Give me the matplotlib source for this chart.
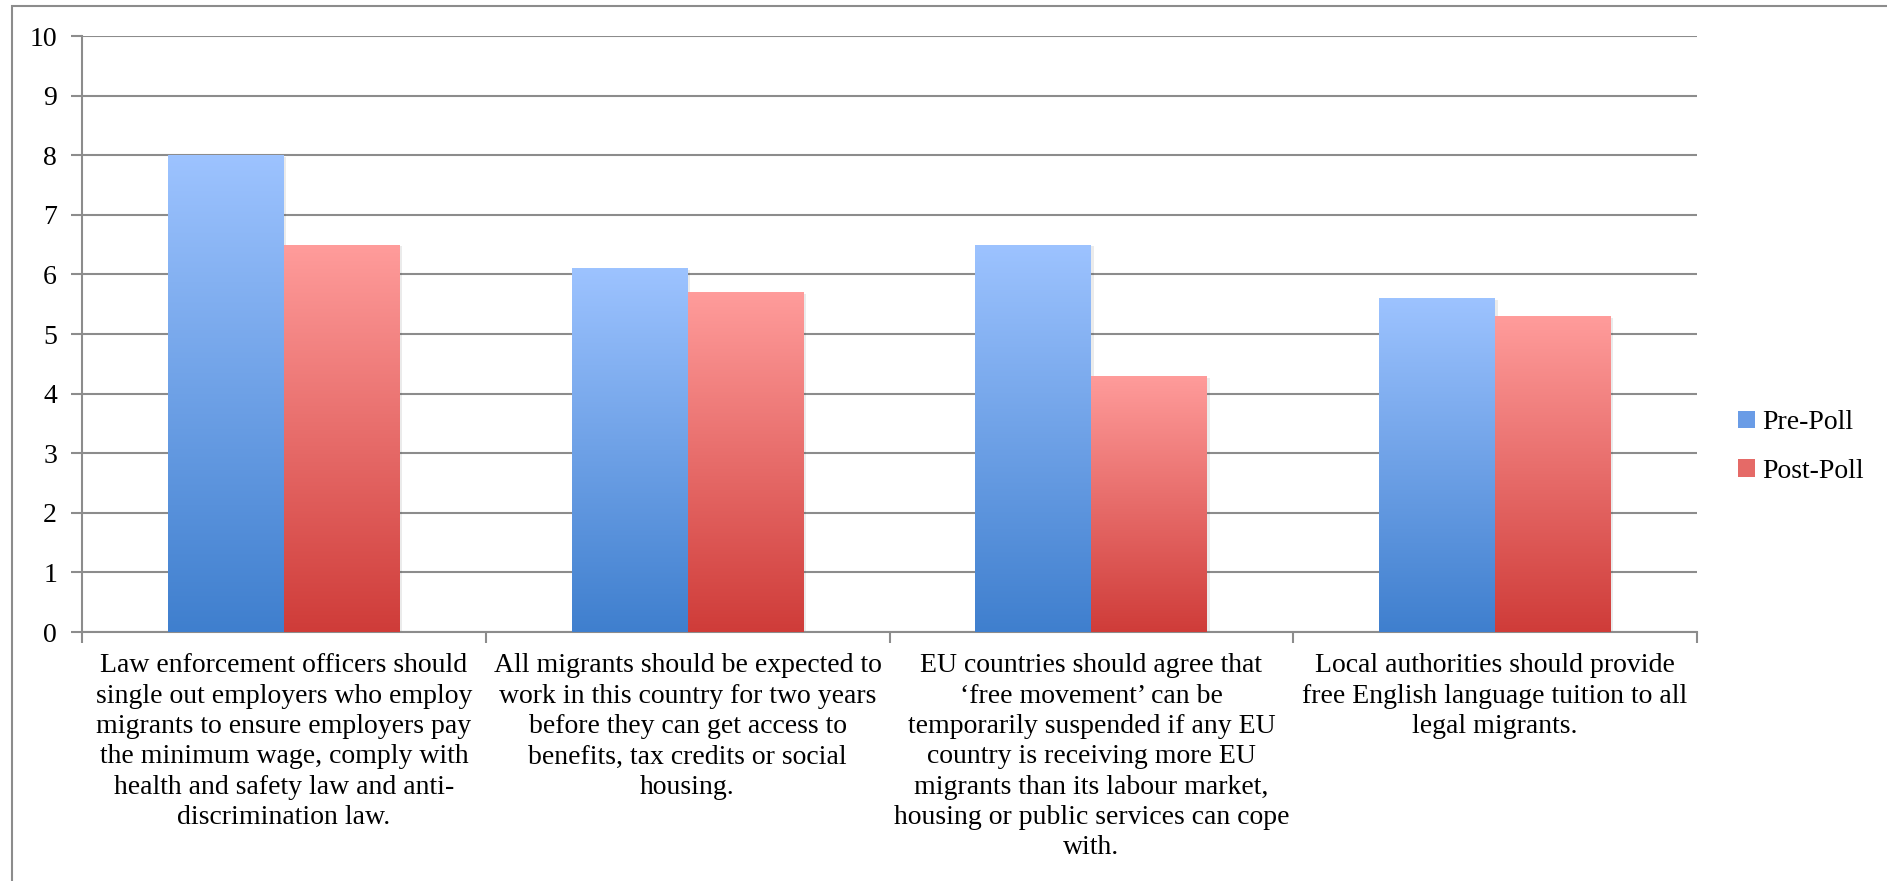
import matplotlib
matplotlib.use("Agg")
import matplotlib.pyplot as plt
import numpy as np
from matplotlib.colors import LinearSegmentedColormap
from matplotlib.patches import Rectangle

plt.rcParams['font.family'] = ['Liberation Serif', 'DejaVu Serif']

categories = [
    "Law enforcement officers should\nsingle out employers who employ\nmigrants to ensure employers pay\n"
    "the minimum wage, comply with\nhealth and safety law and anti-\ndiscrimination law.",
    "All migrants should be expected to\nwork in this country for two years\nbefore they can get access to\n"
    "benefits, tax credits or social\nhousing.",
    "EU countries should agree that\n\u2018free movement\u2019 can be\ntemporarily suspended if any EU\n"
    "country is receiving more EU\nmigrants than its labour market,\nhousing or public services can cope\nwith.",
    "Local authorities should provide\nfree English language tuition to all\nlegal migrants.",
]
pre_poll = [8.0, 6.1, 6.5, 5.6]
post_poll = [6.5, 5.7, 4.3, 5.3]
series = ["Pre-Poll", "Post-Poll"]

blue_cmap = LinearSegmentedColormap.from_list("blue", ["#3f7fce", "#9dc3ff"])
red_cmap = LinearSegmentedColormap.from_list("red", ["#cf3c39", "#ff9c9b"])

fig = plt.figure(figsize=(18.87, 8.81), dpi=100)
# outer chart border
fig.patches.append(Rectangle((12 / 1887, -0.1), 1.2, (875 / 881) + 0.1, transform=fig.transFigure,
                             fill=False, edgecolor="#8c8c8c", linewidth=1.5))
ax = fig.add_axes([82 / 1887, (881 - 632) / 881, 1615 / 1887, 596 / 881])

x = np.arange(len(categories))
width = 0.287
grad = np.linspace(0, 1, 256).reshape(-1, 1)


def gradient_bars(xs, vals, cmap, label):
    bars = ax.bar(xs, vals, width, color="none", edgecolor="none", label=label, zorder=3)
    for rect in bars:
        x0, y0 = rect.get_x(), rect.get_y()
        w, h = rect.get_width(), rect.get_height()
        # soft shadow
        ax.add_patch(Rectangle((x0 + 0.006, y0 - 0.03), w, h, facecolor="#000000", alpha=0.08,
                               edgecolor="none", zorder=2))
        im = ax.imshow(grad, cmap=cmap, origin="lower", aspect="auto",
                       extent=[x0, x0 + w, y0, y0 + h], zorder=3)
        im.set_clip_path(rect)
    return bars


gradient_bars(x - width / 2, pre_poll, blue_cmap, series[0])
gradient_bars(x + width / 2, post_poll, red_cmap, series[1])

ax.set_xlim(-0.5, len(categories) - 0.5)
ax.set_ylim(0, 10)
ax.set_yticks(range(0, 11))
ax.tick_params(axis="y", labelsize=20, length=8, width=1.5, color="#8c8c8c", pad=10)
ax.set_xticks(np.arange(-0.5, len(categories), 1.0))
ax.set_xticklabels([])
ax.tick_params(axis="x", length=8, width=1.5, color="#8c8c8c")
ax.yaxis.grid(True, color="#8c8c8c", linewidth=1.5, zorder=0)
ax.set_axisbelow(True)
for side in ["top", "right"]:
    ax.spines[side].set_visible(False)
for side in ["left", "bottom"]:
    ax.spines[side].set_color("#8c8c8c")
    ax.spines[side].set_linewidth(1.5)

for i, lab in enumerate(categories):
    ax.text(i, -0.36, lab, ha="center", va="top", fontsize=20, linespacing=1.28,
            transform=ax.transData, clip_on=False)

# legend swatches
handles = [Rectangle((0, 0), 1, 1, facecolor="#6a9ce6"), Rectangle((0, 0), 1, 1, facecolor="#e56a67")]
ax.legend(handles, series, loc="center left", bbox_to_anchor=(1.01, 0.31), frameon=False,
          fontsize=20, handlelength=0.6, handleheight=0.6, handletextpad=0.25, labelspacing=0.85)

fig.savefig("out.png", dpi=100)
